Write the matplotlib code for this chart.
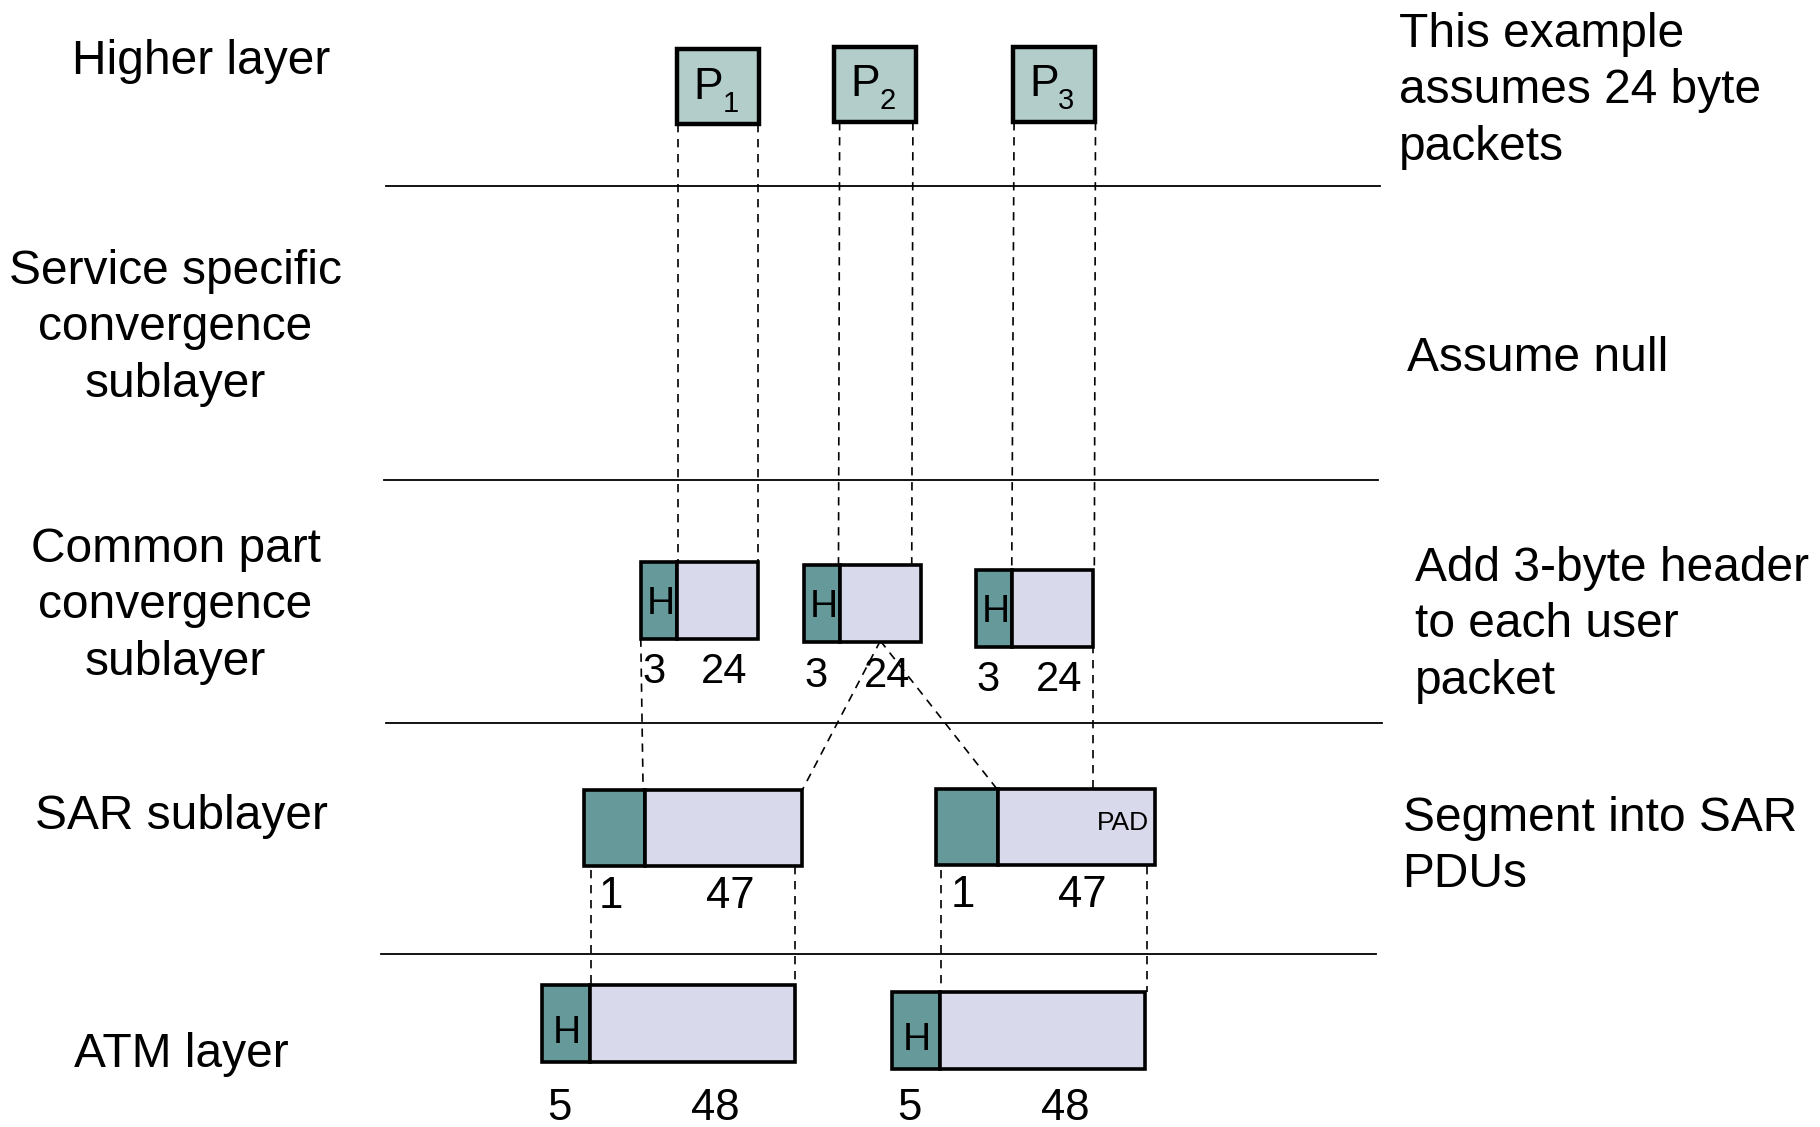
import matplotlib.pyplot as plt
from matplotlib.patches import Rectangle

# canvas units follow the reference picture (x right, y down)
W, H = 1565, 969

HDR_COLOR = "#669999"
BODY_COLOR = "#d9d9ec"
PKT_COLOR = "#b3cdcb"
FONT = "Liberation Sans"

# ── Text content ──────────────────────────
layer_names = [
    "Higher layer",
    "Service specific\nconvergence\nsublayer",
    "Common part\nconvergence\nsublayer",
    "SAR sublayer",
    "ATM layer",
]
layer_name_pos = [(173, 53), (151, 282), (151, 521), (156, 702), (156, 907)]

notes = [
    "This example\nassumes 24 byte\npackets",
    "Assume null",
    "Add 3-byte header\nto each user\npacket",
    "Segment into SAR\nPDUs",
]
note_pos = [(1203, 78), (1210, 308), (1217, 537), (1206, 728)]

# ── Byte counts ──────────────────────────
packet_ids = ["1", "2", "3"]
cpcs_header = [3, 3, 3]
cpcs_payload = [24, 24, 24]
sar_header = [1, 1]
sar_payload = [47, 47]
atm_header = [5, 5]
atm_payload = [48, 48]

# ── Layout ──────────────────────────
sep_lines = [(160, 332, 1187), (413, 330, 1185), (622, 332, 1188), (820, 328, 1183)]

pkt_x = [582, 717, 871]
pkt_y = [42, 40, 40]
PKT_W, PKT_H = 71, 65

cpcs_x = [551, 691, 839]
cpcs_y = [483, 486, 490]
CPCS_HW, CPCS_BW, CPCS_H = 31, 70, 66

sar_x = [502, 805]
sar_y = [679, 678]
SAR_HW, SAR_BW, SAR_H = 53, 135, 66

atm_x = [466, 767]
atm_y = [847, 853]
ATM_HW, ATM_BW, ATM_H = 41, 177, 66

dashed = [
    ((583, 107), (583, 483)), ((652, 107), (652, 483)),
    ((722, 105), (721, 486)), ((785, 105), (784, 486)),
    ((872, 105), (870, 490)), ((942, 105), (941, 490)),
    ((551, 549), (553, 679)),
    ((757, 551), (690, 679)), ((757, 551), (857, 678)),
    ((940, 555), (940, 678)),
    ((508, 735), (508, 847)), ((684, 745), (684, 847)),
    ((809, 735), (809, 853)), ((986, 745), (986, 853)),
]

BIG = 34.5
NUM = 30
NUM_LOW = 31.5
HFS = 28
EDGE = 2.6
SPACING = 1.33

fig = plt.figure(figsize=(18.2, 11.27), dpi=100)
ax = fig.add_axes([0, 0, 1, 1])
ax.set_xlim(0, W)
ax.set_ylim(H, 0)
ax.axis("off")


def text(x, y, s, size, ha="center", va="center"):
    ax.text(x, y, s, fontsize=size, ha=ha, va=va, family=FONT, color="black")


def cell(x, y, hw, bw, h):
    ax.add_patch(Rectangle((x, y), hw, h, facecolor=HDR_COLOR, edgecolor="black", lw=EDGE, zorder=3))
    ax.add_patch(Rectangle((x + hw, y), bw, h, facecolor=BODY_COLOR, edgecolor="black", lw=EDGE, zorder=3))


# separators
for y, x0, x1 in sep_lines:
    ax.plot([x0, x1], [y, y], color="black", lw=1.3)

# dashed guides
for (x0, y0), (x1, y1) in dashed:
    ax.plot([x0, x1], [y0, y1], color="black", lw=1.2, ls=(0, (5, 4)), zorder=2)

# layer names and notes
for s, (x, y) in zip(layer_names, layer_name_pos):
    ax.text(x, y, s, fontsize=BIG, ha="center", va="center", family=FONT, linespacing=SPACING)
for s, (x, y) in zip(notes, note_pos):
    ax.text(x, y, s, fontsize=BIG, ha="left", va="center", family=FONT, linespacing=SPACING)

# higher layer packets
for pid, x, y in zip(packet_ids, pkt_x, pkt_y):
    ax.add_patch(Rectangle((x, y), PKT_W, PKT_H, facecolor=PKT_COLOR, edgecolor="black", lw=EDGE + 0.6, zorder=3))
    text(x + 27, y + 33, "P", 32)
    text(x + 46, y + 47, pid, 21)

# CPCS PDUs
for x, y, hb, pb in zip(cpcs_x, cpcs_y, cpcs_header, cpcs_payload):
    cell(x, y, CPCS_HW, CPCS_BW, CPCS_H)
    text(x + CPCS_HW / 2 + 2, y + 36, "H", HFS)
    text(x + 11, y + CPCS_H + 29, str(hb), NUM)
    text(x + 72, y + CPCS_H + 29, str(pb), NUM)

# SAR PDUs
for i, (x, y, hb, pb) in enumerate(zip(sar_x, sar_y, sar_header, sar_payload)):
    cell(x, y, SAR_HW, SAR_BW, SAR_H)
    text(x + 23, y + SAR_H + 26, str(hb), NUM_LOW)
    text(x + 126, y + SAR_H + 26, str(pb), NUM_LOW)
    if i == 1:
        text(x + SAR_HW + SAR_BW - 27, y + 30, "PAD", 19)

# ATM cells
for x, y, hb, pb in zip(atm_x, atm_y, atm_header, atm_payload):
    cell(x, y, ATM_HW, ATM_BW, ATM_H)
    text(x + ATM_HW / 2 + 1, y + 41, "H", HFS)
    text(x + 15, 953, str(hb), NUM_LOW)
    text(x + 149, 953, str(pb), NUM_LOW)

fig.savefig("out.png", dpi=100)
